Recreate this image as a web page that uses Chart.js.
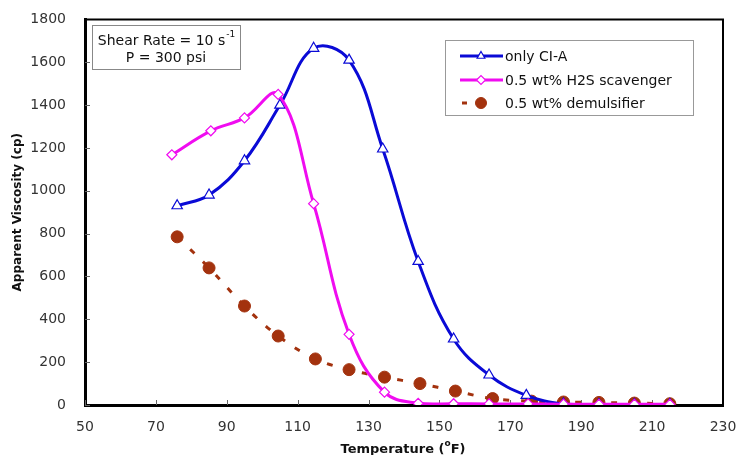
<!DOCTYPE html>
<html>
<head>
<meta charset="utf-8">
<script src="https://cdn.jsdelivr.net/npm/chart.js@4.4.1/dist/chart.umd.min.js"></script>
<style>
  html, body { margin: 0; padding: 0; background: #fff; }
  #wrap { width: 737px; height: 455px; }
</style>
</head>
<body>
<div id="wrap"><canvas id="viscChart" width="737" height="455"></canvas></div>
<script>
// temperatures (F) and apparent viscosity (cp)
var ciaTemp = [76, 85, 95, 105, 114.5, 124.5, 134, 144, 154, 164, 174.5, 185, 195, 205, 215];
var ciaVisc = [930, 980, 1140, 1400, 1665, 1610, 1195, 670, 308, 140, 45, 5, 2, 2, 2];

var scavTemp = [74.5, 85.5, 95, 104.5, 114.5, 124.5, 134.5, 144, 154, 164, 175, 185, 195, 205, 215];
var scavVisc = [1168, 1280, 1340, 1450, 940, 330, 60, 8, 6, 5, 5, 4, 3, 3, 3];

var demTemp = [76, 85, 95, 104.5, 115, 124.5, 134.5, 144.5, 154.5, 165, 176, 185, 195, 205, 215];
var demVisc = [785, 640, 462, 322, 215, 165, 130, 100, 65, 30, 18, 14, 12, 9, 6];

var seriesNames = ["only CI-A", "0.5 wt% H2S scavenger", "0.5 wt% demulsifier"];
var xTicks = [50, 70, 90, 110, 130, 150, 170, 190, 210, 230];
var yTicks = [0, 200, 400, 600, 800, 1000, 1200, 1400, 1600, 1800];

function pts(xs, ys) {
  var out = [];
  for (var i = 0; i < xs.length; i++) out.push({ x: xs[i], y: ys[i] });
  return out;
}

var FONT = "'DejaVu Sans', Arial, sans-serif";
var BLUE = "#0a0ad6", MAGENTA = "#f00cf0", BROWN = "#a3320e";

// frame, inward ticks, text box, legend and x title with superscripts
var extras = {
  id: "extras",
  beforeDatasetsDraw: function (chart) {
    var ctx = chart.ctx, a = chart.chartArea;
    var xs = chart.scales.x, ys = chart.scales.y;
    ctx.save();
    ctx.strokeStyle = "#666";
    ctx.lineWidth = 1;
    ctx.beginPath();
    xTicks.forEach(function (v) {
      var px = Math.round(xs.getPixelForValue(v)) + 0.5;
      ctx.moveTo(px, a.bottom); ctx.lineTo(px, a.bottom - 5);
    });
    yTicks.forEach(function (v) {
      var py = Math.round(ys.getPixelForValue(v)) + 0.5;
      ctx.moveTo(a.left, py); ctx.lineTo(a.left + 5, py);
    });
    ctx.stroke();
    ctx.restore();
  },
  afterDraw: function (chart) {
    var ctx = chart.ctx, a = chart.chartArea;
    ctx.save();
    // top + right frame
    ctx.strokeStyle = "#000";
    ctx.lineWidth = 2;
    ctx.beginPath();
    ctx.moveTo(a.left, a.top);
    ctx.lineTo(a.right, a.top);
    ctx.lineTo(a.right, a.bottom);
    ctx.stroke();

    // condition box
    ctx.fillStyle = "#fff";
    ctx.fillRect(92, 25, 148, 44);
    ctx.strokeStyle = "#888";
    ctx.lineWidth = 1;
    ctx.strokeRect(92.5, 25.5, 148, 44);
    ctx.fillStyle = "#111";
    ctx.textBaseline = "middle";
    var t1 = "Shear Rate = 10 s";
    ctx.font = "14px " + FONT;
    var w1 = ctx.measureText(t1).width;
    ctx.font = "9px " + FONT;
    var ws = ctx.measureText("-1").width;
    var x1 = 166 - (w1 + ws) / 2;
    ctx.font = "14px " + FONT;
    ctx.textAlign = "left";
    ctx.fillText(t1, x1, 41);
    ctx.font = "9px " + FONT;
    ctx.fillText("-1", x1 + w1 + 1, 35);
    ctx.font = "14px " + FONT;
    ctx.textAlign = "center";
    ctx.fillText("P = 300 psi", 166, 58);

    // legend
    ctx.fillStyle = "#fff";
    ctx.fillRect(445, 40, 248, 75);
    ctx.strokeStyle = "#999";
    ctx.strokeRect(445.5, 40.5, 248, 75);
    var rows = [56, 80, 103];
    chart.data.datasets.forEach(function (ds, i) {
      var y = rows[i];
      ctx.strokeStyle = ds.borderColor;
      ctx.lineWidth = 3;
      ctx.beginPath();
      if (ds.borderDash) {
        ctx.moveTo(462, y); ctx.lineTo(467, y);
      } else {
        ctx.moveTo(460, y); ctx.lineTo(503, y);
      }
      ctx.stroke();
      ctx.fillStyle = ds.pointBackgroundColor;
      ctx.strokeStyle = ds.pointBorderColor;
      ctx.lineWidth = ds.pointBorderWidth;
      Chart.helpers.drawPoint(ctx, {
        pointStyle: ds.pointStyle,
        radius: ds.pointStyle === "circle" ? 5.5 : 4.5,
        borderWidth: ds.pointBorderWidth
      }, 481, y);
      ctx.fillStyle = "#111";
      ctx.font = "14px " + FONT;
      ctx.textAlign = "left";
      ctx.fillText(ds.label, 505, y + 1);
    });

    // x title: Temperature (oF) with raised o
    ctx.fillStyle = "#111";
    ctx.font = "bold 13px " + FONT;
    var p1 = "Temperature (", p2 = "F)";
    var wa = ctx.measureText(p1).width, wb = ctx.measureText(p2).width;
    ctx.font = "bold 9px " + FONT;
    var wo = ctx.measureText("o").width;
    var xs = 403 - (wa + wo + wb) / 2;
    ctx.textAlign = "left";
    ctx.font = "bold 13px " + FONT;
    ctx.fillText(p1, xs, 450);
    ctx.font = "bold 9px " + FONT;
    ctx.fillText("o", xs + wa, 444);
    ctx.font = "bold 13px " + FONT;
    ctx.fillText(p2, xs + wa + wo, 450);
    ctx.restore();
  }
};

var ctx = document.getElementById("viscChart").getContext("2d");
new Chart(ctx, {
  type: "line",
  data: {
    datasets: [
      {
        label: seriesNames[0],
        data: pts(ciaTemp, ciaVisc),
        borderColor: BLUE,
        borderWidth: 3,
        tension: 0.4,
        pointStyle: "triangle",
        pointRadius: 6,
        pointBorderWidth: 1.2,
        pointBackgroundColor: "#fff",
        pointBorderColor: BLUE,
        order: 2
      },
      {
        label: seriesNames[1],
        data: pts(scavTemp, scavVisc),
        borderColor: MAGENTA,
        borderWidth: 3,
        tension: 0.4,
        pointStyle: "rectRot",
        pointRadius: 5,
        pointBorderWidth: 1.2,
        pointBackgroundColor: "#fff",
        pointBorderColor: MAGENTA,
        order: 1
      },
      {
        label: seriesNames[2],
        data: pts(demTemp, demVisc),
        borderColor: BROWN,
        borderWidth: 3,
        borderDash: [6, 12],
        tension: 0.4,
        pointStyle: "circle",
        pointRadius: 6,
        pointBorderWidth: 1,
        pointBackgroundColor: BROWN,
        pointBorderColor: BROWN,
        order: 3
      }
    ]
  },
  options: {
    responsive: false,
    animation: false,
    layout: { padding: { left: 0, top: 18, right: 0, bottom: 0 } },
    plugins: {
      legend: { display: false },
      tooltip: { enabled: false }
    },
    scales: {
      x: {
        type: "linear",
        min: 50,
        max: 230,
        afterBuildTicks: function (s) { s.ticks = xTicks.map(function (v) { return { value: v }; }); },
        afterFit: function (s) { s.height = 50; s.paddingLeft = 0; s.paddingRight = 14; },
        grid: { display: false },
        border: { display: true, color: "#000", width: 3 },
        ticks: { color: "#333", font: { family: FONT, size: 14 }, padding: 6, maxRotation: 0 }
      },
      y: {
        min: 0,
        max: 1800,
        afterBuildTicks: function (s) { s.ticks = yTicks.map(function (v) { return { value: v }; }); },
        afterFit: function (s) { s.width = 85; },
        grid: { display: false },
        border: { display: true, color: "#000", width: 3 },
        ticks: {
          color: "#333",
          font: { family: FONT, size: 14 },
          padding: 11,
          callback: function (v) { return String(v); }
        },
        title: {
          display: true,
          text: "Apparent Viscosity (cp)",
          color: "#111",
          font: { family: FONT, size: 12, weight: "bold" },
          padding: { top: 11, bottom: 2 }
        }
      }
    }
  },
  plugins: [extras]
});
</script>
</body>
</html>
